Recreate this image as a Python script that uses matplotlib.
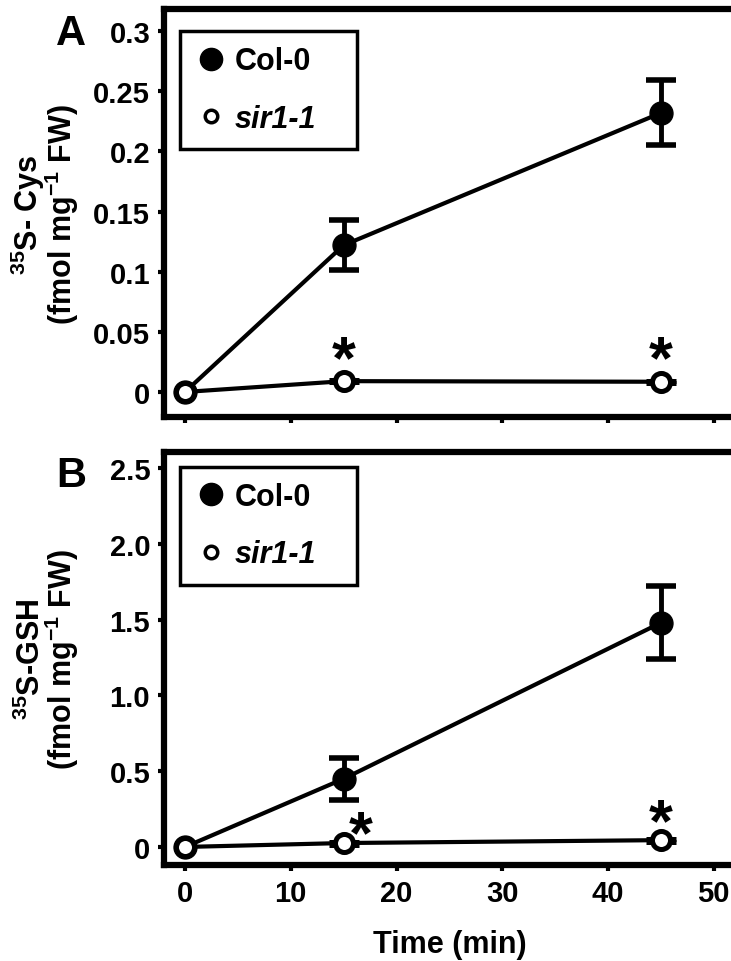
import matplotlib
matplotlib.use("Agg")
import matplotlib.pyplot as plt
from matplotlib.lines import Line2D

# data
time = [0, 15, 45]
cys_col = [0, 0.122, 0.232]
cys_col_err = [0, 0.021, 0.027]
cys_sir = [0, 0.009, 0.0085]
cys_sir_err = [0, 0.001, 0.001]
gsh_col = [0, 0.45, 1.48]
gsh_col_err = [0, 0.14, 0.24]
gsh_sir = [0, 0.026, 0.045]
gsh_sir_err = [0, 0.01, 0.01]
cys_star_x = [15, 45]
cys_star_y = [0.035, 0.035]
gsh_star_x = [16.6, 45]
gsh_star_y = [0.15, 0.23]
xticks = [0, 10, 20, 30, 40, 50]
cys_ticks = [0, 0.05, 0.1, 0.15, 0.2, 0.25, 0.3]
cys_ticklabels = ["0", "0.05", "0.1", "0.15", "0.2", "0.25", "0.3"]
gsh_ticks = [0, 0.5, 1.0, 1.5, 2.0, 2.5]
gsh_ticklabels = ["0", "0.5", "1.0", "1.5", "2.0", "2.5"]

plt.rcParams['font.family'] = ['Liberation Sans', 'DejaVu Sans']
plt.rcParams['font.weight'] = 'bold'
plt.rcParams['mathtext.fontset'] = 'custom'
plt.rcParams['mathtext.rm'] = 'Liberation Sans:bold'
plt.rcParams['mathtext.it'] = 'Liberation Sans:italic:bold'
plt.rcParams['mathtext.bf'] = 'Liberation Sans:bold'

fig = plt.figure(figsize=(7.31, 9.62), dpi=100)
axA = fig.add_axes([0.2244, 0.565, 0.781, 0.4246])
axB = fig.add_axes([0.2244, 0.0998, 0.781, 0.4288])

XMIN, XMAX = -1.98, 52.0


def panel(ax, col, col_err, sir, sir_err, sx, sy, ticks, ticklabels, ylim, ylabel, leg_top):
    ax.errorbar(time, col, yerr=col_err, errorevery=(1, 1), fmt='-o', color='k',
                lw=3, ms=16.5, mfc='k', mec='k', ecolor='k', elinewidth=3.5,
                capsize=11, capthick=4, zorder=3)
    ax.errorbar(time, sir, yerr=sir_err, errorevery=(1, 1), fmt='-o', color='k',
                lw=3, ms=13, mfc='white', mec='k', mew=3.6, ecolor='k',
                elinewidth=3.5, capsize=11, capthick=4, zorder=4)
    for x, y in zip(sx, sy):
        ax.annotate('*', xy=(x, y), xytext=(0, -20), textcoords='offset points',
                    ha='center', va='baseline', fontsize=44, fontweight='bold')
    ax.set_xlim(XMIN, XMAX)
    ax.set_ylim(*ylim)
    ax.set_xticks(xticks)
    ax.set_yticks(ticks)
    ax.set_yticklabels(ticklabels)
    for s in ['left', 'bottom', 'top']:
        ax.spines[s].set_linewidth(4.5)
    ax.spines['right'].set_visible(False)
    ax.tick_params(direction='out', length=4, width=3, pad=6, labelsize=21)
    ax.set_ylabel(ylabel, fontsize=22, fontweight='bold', linespacing=0.84)
    ax.yaxis.set_label_coords(-0.146, 0.5)

    handles = [Line2D([], [], marker='o', ls='none', color='k', ms=16),
               Line2D([], [], marker='o', ls='none', mfc='white', mec='k', ms=9, mew=2.5)]
    leg = ax.legend(handles, ['Col-0', 'sir1-1'], loc='upper left',
                    bbox_to_anchor=(0.028, leg_top - 0.32, 0.31, 0.32), mode='expand',
                    borderaxespad=0, fontsize=22, borderpad=0.5, labelspacing=0.9,
                    handlelength=1.03, handletextpad=0.27, fancybox=False,
                    framealpha=1, edgecolor='k')
    leg.get_frame().set_linewidth(2.5)
    leg.get_texts()[1].set_fontstyle('italic')


panel(axA, cys_col, cys_col_err, cys_sir, cys_sir_err, cys_star_x, cys_star_y,
      cys_ticks, cys_ticklabels, (-0.0212, 0.3184),
      "$^{35}$S- Cys\n(fmol mg$^{-1}$ FW)", 0.946)
axA.set_xticklabels([])

panel(axB, gsh_col, gsh_col_err, gsh_sir, gsh_sir_err, gsh_star_x, gsh_star_y,
      gsh_ticks, gsh_ticklabels, (-0.119, 2.604),
      "$^{35}$S-GSH\n(fmol mg$^{-1}$ FW)", 0.966)
axB.set_xlabel("Time (min)", fontsize=22, fontweight='bold', labelpad=16,
               x=(25 - XMIN) / (XMAX - XMIN))

fig.text(71 / 731, 1 - 45 / 962, "A", fontsize=30, fontweight='bold', ha='center', va='baseline')
fig.text(71 / 731, 1 - 487 / 962, "B", fontsize=30, fontweight='bold', ha='center', va='baseline')

fig.savefig("out.png", dpi=100)
